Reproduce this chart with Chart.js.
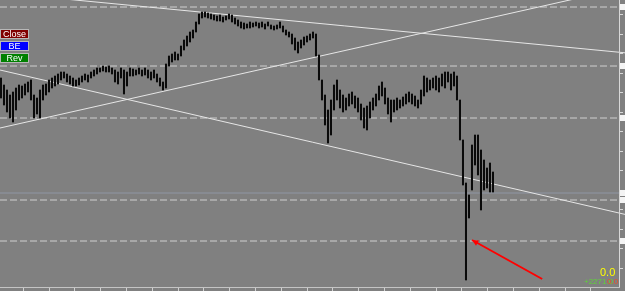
<!DOCTYPE html>
<html>
<head>
<meta charset="utf-8">
<script src="https://cdn.jsdelivr.net/npm/chart.js@4/dist/chart.umd.min.js"></script>
<style>
html,body{margin:0;padding:0;background:#808080;overflow:hidden;}
#wrap{width:625px;height:291px;position:relative;}
canvas{display:block;}
</style>
</head>
<body>
<div id="wrap"><canvas id="c" width="625" height="291"></canvas></div>
<script>
// ---- data (price in points, one bar per step) ----
const barHighs = [222,215,210,205,208,212,215,214,216,218,220,205,202,210,215,216,220,222,224,226,228,228,226,224,222,220,222,224,226,225,228,230,232,232,234,233,234,232,230,228,232,230,228,232,231,230,232,230,232,230,228,230,226,222,218,236,244,246,248,246,254,260,264,268,270,278,286,288,288,287,286,285,284,285,283,284,286,285,282,280,278,277,276,278,277,278,277,278,276,278,275,274,275,278,274,270,268,266,262,258,260,263,264,266,268,266,245,220,205,190,200,215,220,210,205,202,206,208,204,202,196,192,194,198,202,206,214,218,212,202,200,200,202,200,203,206,208,206,204,200,210,224,222,220,222,224,222,226,228,228,226,228,224,200,160,117,105,155,165,165,150,140,132,137,128];
const barLows  = [202,195,188,182,178,190,200,202,205,208,200,182,186,182,200,205,208,212,214,216,220,222,218,216,214,214,215,218,220,218,222,224,226,228,229,228,228,226,218,216,222,206,214,224,224,225,226,224,225,222,220,222,218,214,210,212,234,238,240,240,244,250,254,258,262,268,276,282,283,282,281,280,279,279,278,280,281,278,276,274,272,271,272,272,273,274,272,273,271,274,271,270,271,272,268,265,263,256,250,247,252,255,258,260,262,244,220,200,175,157,165,190,200,192,188,190,194,196,192,188,180,172,170,182,190,194,200,204,196,186,178,188,190,192,194,196,198,196,194,192,196,204,208,210,212,210,208,214,212,218,210,214,200,160,115,20,82,110,135,125,90,110,112,108,108];
const levels = [293, 234, 182, 100, 59];      // dashed horizontal levels
const bidLevel = 107;                           // current bid line
const trendA = [307.2, 247.2];                  // values at left / right edge
const trendB = [172.0, 312.4];
const trendC = [230.0, 85.6];
const arrowFrom = {x:180.4, y:21};
const arrowTo   = {x:157.0, y:60};
const xMin = -0.33, xMax = 208;
const yMin = 9, yMax = 300;

const bars = barHighs.map((h,i)=>({x:i, y:[barLows[i], h]}));
const edgeLine = (vals)=>[{x:xMin,y:vals[0]},{x:xMax,y:vals[1]}];

const datasets = [];
levels.forEach(v=>datasets.push({type:'line', data:edgeLine([v,v]), borderColor:'#cfcfcf', borderWidth:1, borderDash:[7,3], pointRadius:0, order:5}));
datasets.push({type:'line', data:edgeLine([bidLevel,bidLevel]), borderColor:'#8f96a4', borderWidth:1, pointRadius:0, order:5});
[trendA,trendB,trendC].forEach(t=>datasets.push({type:'line', data:edgeLine(t), borderColor:'#e6e6e6', borderWidth:1, pointRadius:0, order:4}));
datasets.push({type:'bar', data:bars, backgroundColor:'#0a0a0a', borderWidth:0, barThickness:1.4, order:1});

const overlay = {
  id:'overlay',
  beforeDraw(chart){
    const c = chart.ctx;
    c.save(); c.fillStyle='#808080'; c.fillRect(0,0,chart.width,chart.height); c.restore();
  },
  afterDraw(chart){
    const c = chart.ctx, xs = chart.scales.x, ys = chart.scales.y;
    c.save();
    // right axis
    c.strokeStyle='#d8d8d8'; c.lineWidth=1;
    c.beginPath(); c.moveTo(619.5,0); c.lineTo(619.5,287); c.stroke();
    for(let y=14;y<287;y+=19.5){ c.beginPath(); c.moveTo(620,Math.round(y)+0.5); c.lineTo(623,Math.round(y)+0.5); c.stroke(); }
    c.fillStyle='#f4f4f4';
    levels.concat([bidLevel]).forEach(v=>{ const py=ys.getPixelForValue(v); c.fillRect(620,py-3,5,6); });
    // bottom axis
    c.strokeStyle='#c4c4c4';
    c.beginPath(); c.moveTo(0,287.5); c.lineTo(620,287.5); c.stroke();
    c.strokeStyle='#d0d0d0';
    for(let x=22.7;x<615;x+=25.8){ c.beginPath(); c.moveTo(Math.round(x)+0.5,288); c.lineTo(Math.round(x)+0.5,291); c.stroke(); }
    // buttons
    const btn=(label,y,fill)=>{
      c.fillStyle=fill; c.fillRect(0,y,29,10);
      c.strokeStyle='#b8b8b8'; c.lineWidth=1; c.strokeRect(0.5,y+0.5,28,9);
      c.fillStyle='#ffffff'; c.font='9px "Liberation Sans", Arial, sans-serif';
      c.textAlign='center'; c.textBaseline='middle'; c.fillText(label,14.5,y+5.5);
    };
    btn('Close',29,'#800000');
    btn('BE',41,'#0000ff');
    btn('Rev',53,'#008000');
    // arrow
    const x1=xs.getPixelForValue(arrowFrom.x), y1=ys.getPixelForValue(arrowFrom.y);
    const x2=xs.getPixelForValue(arrowTo.x), y2=ys.getPixelForValue(arrowTo.y);
    c.strokeStyle='#ff0000'; c.fillStyle='#ff0000'; c.lineWidth=2;
    c.beginPath(); c.moveTo(x1,y1); c.lineTo(x2,y2); c.stroke();
    const a=Math.atan2(y2-y1,x2-x1), L=7;
    c.beginPath(); c.moveTo(x2,y2);
    c.lineTo(x2-L*Math.cos(a-0.45), y2-L*Math.sin(a-0.45));
    c.lineTo(x2-L*Math.cos(a+0.45), y2-L*Math.sin(a+0.45));
    c.closePath(); c.fill();
    // bottom-right texts
    c.textAlign='left'; c.textBaseline='alphabetic';
    c.font='11px "Liberation Sans", Arial, sans-serif'; c.fillStyle='#ffff00';
    c.fillText('0.0',600,276);
    c.font='8px "Liberation Sans", Arial, sans-serif'; c.fillStyle='#5fd03a';
    c.fillText('+2271.0',584,284);
    c.fillStyle='#e8502a';
    c.fillText('0.0',607,284);
    c.restore();
  }
};

new Chart(document.getElementById('c'), {
  type:'bar',
  data:{datasets},
  options:{
    responsive:false, animation:false, events:[],
    layout:{padding:0},
    plugins:{legend:{display:false}, tooltip:{enabled:false}},
    scales:{
      x:{type:'linear', min:xMin, max:xMax, display:false, offset:false},
      y:{min:yMin, max:yMax, display:false}
    }
  },
  plugins:[overlay]
});
</script>
</body>
</html>
